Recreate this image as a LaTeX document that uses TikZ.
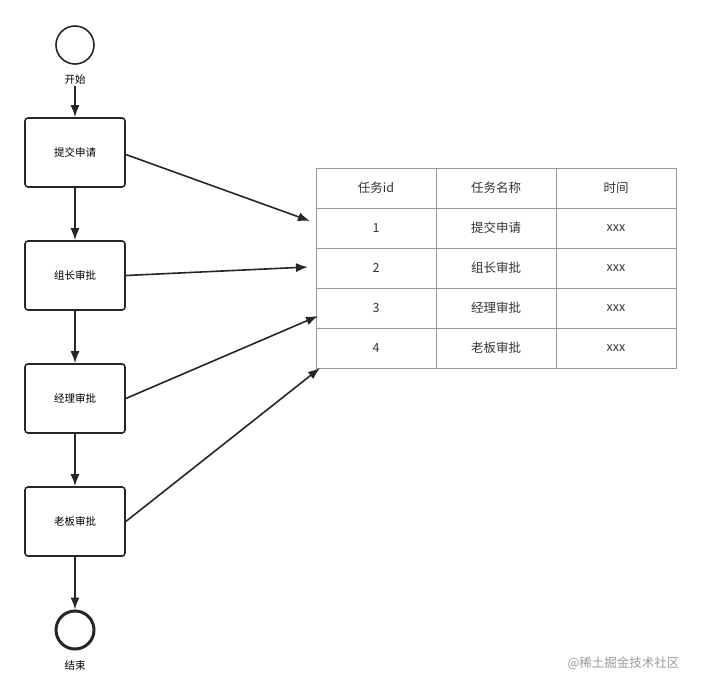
\documentclass[tikz,border=0pt]{standalone}
\usepackage{fontspec}
\setmainfont{Noto Sans CJK SC}
\usetikzlibrary{arrows.meta}
\begin{document}
\begin{tikzpicture}[x=1pt,y=-1pt,
  stepbox/.style={draw=black!85,line width=1.6pt,rounded corners=3pt,minimum width=100pt,minimum height=69pt,font=\fontsize{10.5}{12}\selectfont},
  cell/.style={draw=black!40,line width=1pt,minimum width=120pt,minimum height=40pt,font=\fontsize{12.5}{14}\selectfont,text=black!80},
  conn/.style={draw=black!85,line width=1.6pt,-{Latex[length=12pt,width=9pt]}},
  lbl/.style={font=\fontsize{10.5}{12}\selectfont}]
\useasboundingbox (0,0) rectangle (701,690);
\node[circle,draw=black!85,line width=1.6pt,minimum size=38pt,inner sep=0] (start) at (75,45) {};
\node[lbl,inner sep=1pt] (startl) at (75,80) {开始};
\node[stepbox] (s1) at (75,152.5) {提交申请};
\node[stepbox] (s2) at (75,275.5) {组长审批};
\node[stepbox] (s3) at (75,398.5) {经理审批};
\node[stepbox] (s4) at (75,521.5) {老板审批};
\node[circle,draw=black!85,line width=3pt,minimum size=38pt,inner sep=0] (end) at (75,630) {};
\node[lbl] at (75,665) {结束};
\draw[conn] (startl) -- (s1);
\draw[conn] (s1) -- (s2);
\draw[conn] (s2) -- (s3);
\draw[conn] (s3) -- (s4);
\draw[conn] (s4) -- (end);
% table
\foreach \r/\a/\b/\c [count=\i from 0] in {h/任务id/任务名称/时间,1/1/提交申请/xxx,2/2/组长审批/xxx,3/3/经理审批/xxx,4/4/老板审批/xxx}{
  \node[cell] (c\r a) at (376,188+40*\i) {\a};
  \node[cell] (c\r b) at (496,188+40*\i) {\b};
  \node[cell] (c\r c) at (616,188+40*\i) {\c};
}
\coordinate (t1) at (310,221);
\coordinate (t2) at (308,267);
\coordinate (t3) at (318,316);
\coordinate (t4) at (320,368);
\draw[conn] (s1.east) ++(0,2) -- (t1);
\draw[conn] (s2.east) -- (t2);
\draw[conn] (s3.east) -- (t3);
\draw[conn] (s4.east) -- (t4);
\node[font=\fontsize{12.5}{14}\selectfont,text=black!40,anchor=east] (wm) at (683,663) {@稀土掘金技术社区};
\end{tikzpicture}
\end{document}
